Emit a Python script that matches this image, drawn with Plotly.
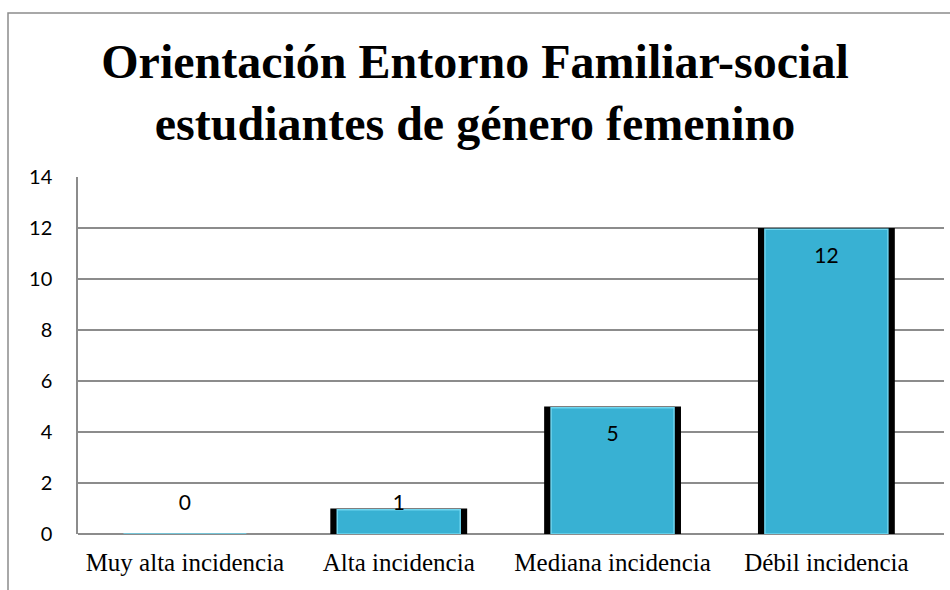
import plotly.graph_objects as go

categorias = ["Muy alta incidencia", "Alta incidencia", "Mediana incidencia", "Débil incidencia"]
valores = [0, 1, 5, 12]
ticks_y = [0, 2, 4, 6, 8, 10, 12, 14]

# posición de las etiquetas de datos (dentro de la barra cerca del borde superior)
pos_etiquetas = [max(v - 1.15, 1.15) for v in valores]

fig = go.Figure()

# sombra negra detrás de cada barra
fig.add_trace(go.Bar(
    x=categorias, y=valores, width=0.64,
    marker=dict(color="black", line=dict(width=0)),
    hoverinfo="skip", showlegend=False,
))
fig.add_trace(go.Bar(
    x=categorias, y=[v - 0.05 if v > 0 else 0 for v in valores], width=0.575,
    marker=dict(color="#38B1D3", line=dict(color="#6FD6F0", width=1.5)),
    showlegend=False,
))
fig.add_trace(go.Scatter(
    x=categorias, y=pos_etiquetas, mode="text",
    text=[str(v) for v in valores],
    textfont=dict(family="Lato", size=21, color="black"),
    hoverinfo="skip", showlegend=False,
))

fig.update_layout(
    width=950, height=590,
    barmode="overlay",
    paper_bgcolor="white", plot_bgcolor="white",
    margin=dict(l=78, r=6, t=177, b=56),
    title=dict(
        text="<b>Orientación Entorno Familiar-social<br>estudiantes de género femenino</b>",
        font=dict(family="Liberation Serif", size=48, color="black"),
        x=0.5, xanchor="center", xref="container",
        y=1 - 78 / 590, yanchor="middle", yref="container",
    ),
    xaxis=dict(
        range=[-0.5, 3.55],
        showgrid=False, showline=False, ticks="",
        ticklabelstandoff=11,
        tickfont=dict(family="Liberation Serif", size=25, color="black"),
    ),
    yaxis=dict(
        range=[0, 14], tickvals=ticks_y,
        showgrid=True, gridcolor="#8c8c8c", gridwidth=1.5,
        showline=True, linecolor="#8c8c8c", linewidth=1.5,
        zeroline=True, zerolinecolor="#8c8c8c", zerolinewidth=1.5,
        ticks="", ticklabelstandoff=20,
        tickfont=dict(family="Lato", size=20, color="black"),
    ),
    shapes=[dict(
        type="rect", xref="paper", yref="paper",
        x0=(8 - 78) / 866, x1=1.2, y0=-0.3, y1=1 + (177 - 13) / 357,
        line=dict(color="#8c8c8c", width=1.5), layer="below",
    )],
)

fig.write_html("out.html", config={"displayModeBar": False},
               post_script="document.body.style.margin='0';")
